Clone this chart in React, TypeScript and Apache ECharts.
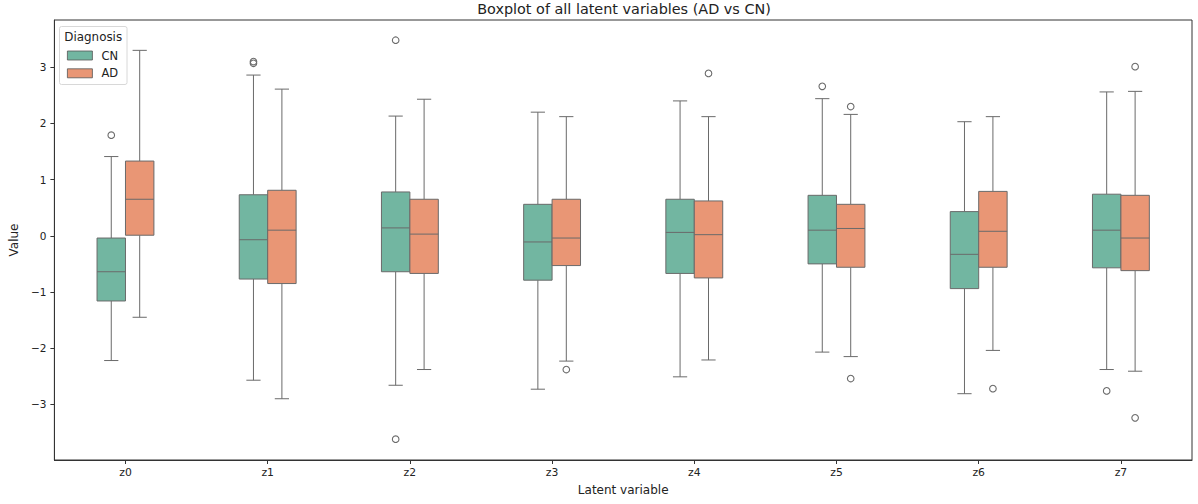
import React, { useEffect, useRef } from "react";
import * as echarts from "echarts";

const categories = ["z0", "z1", "z2", "z3", "z4", "z5", "z6", "z7"];
const groups = ["CN", "AD"];

// [lowWhisker, Q1, median, Q3, highWhisker]
const cnStats = [
  [-2.22, -1.16, -0.64, -0.04, 1.41],
  [-2.57, -0.77, -0.07, 0.73, 2.86],
  [-2.66, -0.64, 0.14, 0.78, 2.13],
  [-2.73, -0.79, -0.11, 0.56, 2.2],
  [-2.51, -0.67, 0.06, 0.65, 2.4],
  [-2.07, -0.5, 0.1, 0.72, 2.44],
  [-2.81, -0.94, -0.33, 0.43, 2.03],
  [-2.38, -0.57, 0.1, 0.74, 2.56],
];
const adStats = [
  [-1.45, 0.01, 0.65, 1.33, 3.3],
  [-2.9, -0.85, 0.1, 0.81, 2.61],
  [-2.38, -0.67, 0.03, 0.65, 2.43],
  [-2.23, -0.53, -0.04, 0.65, 2.12],
  [-2.21, -0.75, 0.02, 0.62, 2.12],
  [-2.15, -0.56, 0.13, 0.56, 2.16],
  [-2.04, -0.56, 0.08, 0.79, 2.12],
  [-2.41, -0.62, -0.04, 0.72, 2.57],
];
// outliers: [categoryIndex, value]
const cnOutliers = [
  [0, 1.79],
  [1, 3.07],
  [1, 3.1],
  [2, 3.48],
  [2, -3.62],
  [5, 2.66],
  [7, -2.76],
];
const adOutliers = [
  [3, -2.38],
  [4, 2.89],
  [5, 2.3],
  [5, -2.54],
  [6, -2.72],
  [7, 3.01],
  [7, -3.24],
];

const COLORS = ["#72b6a1", "#e99675"];
const LINE = "#6a6a6a";
const FONT = "DejaVu Sans";

export default function App() {
  const ref = useRef<HTMLDivElement>(null);
  useEffect(() => {
    if (!ref.current) return;
    const chart = echarts.init(ref.current, null, { renderer: "svg" });

    const boxSeries = (gi: number, stats: number[][]) => ({
      name: groups[gi],
      type: "custom",
      itemStyle: { color: COLORS[gi] },
      data: stats.map((s, i) => [i, ...s]),
      encode: { x: 0, y: [1, 2, 3, 4, 5] },
      renderItem: (params: any, api: any) => {
        const xi = api.value(0);
        const band = api.size([1, 0])[0];
        const w = band * 0.2;
        const cx = api.coord([xi, 0])[0] + (gi === 0 ? -1 : 1) * band * 0.1;
        const y = (k: number) => api.coord([xi, api.value(k)])[1];
        const yLow = y(1), yQ1 = y(2), yMed = y(3), yQ3 = y(4), yHigh = y(5);
        const ls = { stroke: LINE, lineWidth: 1 };
        return {
          type: "group",
          children: [
            { type: "line", shape: { x1: cx, y1: yHigh, x2: cx, y2: yQ3 }, style: ls },
            { type: "line", shape: { x1: cx, y1: yQ1, x2: cx, y2: yLow }, style: ls },
            { type: "line", shape: { x1: cx - w / 4, y1: yHigh, x2: cx + w / 4, y2: yHigh }, style: ls },
            { type: "line", shape: { x1: cx - w / 4, y1: yLow, x2: cx + w / 4, y2: yLow }, style: ls },
            {
              type: "rect",
              shape: { x: cx - w / 2, y: yQ3, width: w, height: yQ1 - yQ3 },
              style: { fill: COLORS[gi], stroke: LINE, lineWidth: 1 },
            },
            { type: "line", shape: { x1: cx - w / 2, y1: yMed, x2: cx + w / 2, y2: yMed }, style: ls },
          ],
        };
      },
    });

    const outlierSeries = (gi: number, pts: number[][]) => ({
      name: groups[gi],
      type: "custom",
      itemStyle: { color: COLORS[gi] },
      data: pts,
      encode: { x: 0, y: 1 },
      renderItem: (params: any, api: any) => {
        const xi = api.value(0);
        const band = api.size([1, 0])[0];
        const p = api.coord([xi, api.value(1)]);
        const cx = p[0] + (gi === 0 ? -1 : 1) * band * 0.1;
        return {
          type: "circle",
          shape: { cx, cy: p[1], r: 3.3 },
          style: { fill: "none", stroke: LINE, lineWidth: 1.1 },
        };
      },
    });

    chart.setOption({
      animation: false,
      backgroundColor: "#ffffff",
      textStyle: { fontFamily: FONT },
      grid: {
        left: 53,
        right: 6,
        top: 20,
        bottom: 44,
        show: true,
        borderColor: "#333",
        borderWidth: 1,
        backgroundColor: "transparent",
      },
      graphic: [
        {
          type: "text",
          x: 624,
          y: 9,
          z: 10,
          style: {
            text: "Boxplot of all latent variables (AD vs CN)",
            fontFamily: FONT,
            fontSize: 14.4,
            fill: "#222",
            align: "center",
            verticalAlign: "middle",
          },
        },
        {
          type: "rect",
          z: 5,
          shape: { x: 59.5, y: 26.5, width: 67.5, height: 58, r: 2 },
          style: { fill: "rgba(255,255,255,0.8)", stroke: "#d8d8d8", lineWidth: 1 },
        },
        {
          type: "text",
          x: 64.3,
          y: 37,
          z: 6,
          style: {
            text: "Diagnosis",
            fontFamily: FONT,
            fontSize: 11.9,
            fill: "#222",
            verticalAlign: "middle",
          },
        },
      ],
      legend: {
        data: groups,
        orient: "vertical",
        left: 67,
        top: 49.5,
        padding: 0,
        itemWidth: 25,
        itemHeight: 9,
        itemGap: 5.8,
        icon: "rect",
        z: 7,
        itemStyle: { borderColor: "#555", borderWidth: 0.8 },
        textStyle: {
          fontFamily: FONT,
          fontSize: 11.5,
          color: "#222",
          lineHeight: 12,
          padding: [0, 0, 0, 4],
        },
        selectedMode: false,
      },
      xAxis: {
        type: "category",
        data: categories,
        boundaryGap: true,
        name: "Latent variable",
        nameLocation: "middle",
        nameGap: 24,
        nameTextStyle: { fontFamily: FONT, fontSize: 12, color: "#222" },
        axisLine: { show: true, onZero: false, lineStyle: { color: "#333", width: 1 } },
        axisTick: { show: true, alignWithLabel: true, length: 4, lineStyle: { color: "#333" } },
        axisLabel: { fontFamily: FONT, fontSize: 10.8, color: "#222", margin: 7 },
        splitLine: { show: false },
      },
      yAxis: {
        type: "value",
        min: -3.99,
        max: 3.84,
        splitNumber: 8,
        name: "Value",
        nameLocation: "middle",
        nameGap: 32,
        nameTextStyle: { fontFamily: FONT, fontSize: 12, color: "#222" },
        axisLine: { show: true, lineStyle: { color: "#333", width: 1 } },
        axisTick: { show: true, length: 4, lineStyle: { color: "#333" } },
        axisLabel: {
          fontFamily: FONT,
          fontSize: 10.5,
          color: "#222",
          margin: 8,
          showMinLabel: false,
          showMaxLabel: false,
          formatter: (v: number) =>
            Number.isInteger(v) ? (v < 0 ? "\u2212" + Math.abs(v) : String(v)) : "",
        },
        splitLine: { show: false },
      },
      series: [
        boxSeries(0, cnStats),
        boxSeries(1, adStats),
        outlierSeries(0, cnOutliers),
        outlierSeries(1, adOutliers),
      ],
    });
    return () => chart.dispose();
  }, []);
  return (
    <div
      ref={ref}
      style={{ position: "fixed", left: 0, top: 0, width: 1198, height: 504 }}
    />
  );
}
